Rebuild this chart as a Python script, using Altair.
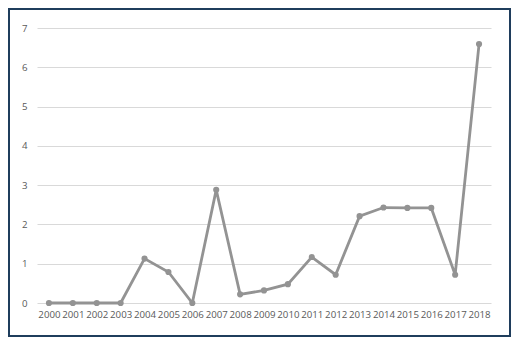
import altair as alt
import pandas as pd

years = [str(y) for y in range(2000, 2019)]
values = [0, 0, 0, 0, 1.13, 0.79, 0, 2.88, 0.22, 0.32, 0.48, 1.17, 0.72,
          2.21, 2.43, 2.42, 2.42, 0.72, 6.59]
y_ticks = [0, 1, 2, 3, 4, 5, 6, 7]

df = pd.DataFrame({"year": years, "value": values})

line_color = "#939393"
font = "Open Sans"

x_enc = alt.X("year:O", sort=years,
              scale=alt.Scale(type="point", padding=0.5),
              axis=alt.Axis(title=None, labelAngle=0, domain=False, ticks=False,
                            grid=False, labelFont=font, labelFontSize=9.7,
                            labelColor="#595959", labelPadding=6))
y_enc = alt.Y("value:Q", scale=alt.Scale(domain=[0, 7], nice=False),
              axis=alt.Axis(title=None, values=y_ticks, domain=False, ticks=False,
                            grid=True, gridColor="#d9d9d9", gridWidth=1,
                            labelFont=font, labelFontSize=9.7,
                            labelColor="#595959", labelPadding=10))

line = alt.Chart(df).mark_line(color=line_color, strokeWidth=2.8).encode(x=x_enc, y=y_enc)
pts = alt.Chart(df).mark_point(color=line_color, filled=True, size=38, opacity=1).encode(x=x_enc, y=y_enc)

# border around the whole canvas (canvas is 503 x 329; plot origin at 29,20)
border = alt.Chart(pd.DataFrame({"a": [0]})).mark_rect(
    fill=None, stroke="#1f3d5c", strokeWidth=2, clip=False
).encode(
    x=alt.value(-28), x2=alt.value(473), y=alt.value(-19), y2=alt.value(308)
)

chart = alt.layer(line, pts, border).properties(
    width=454, height=275,
    padding={"left": 29, "top": 20, "right": 20, "bottom": 34},
    autosize=alt.AutoSizeParams(type="none"),
    background="white",
).configure_view(stroke=None)

chart.save("out.html", embed_options={"renderer": "svg", "actions": False})
